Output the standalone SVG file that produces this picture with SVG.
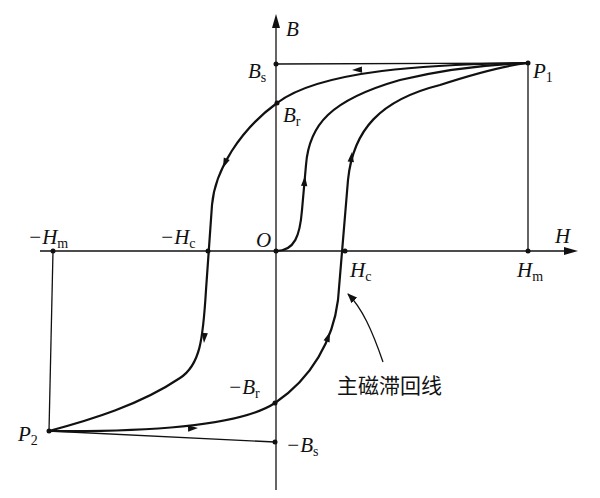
<svg xmlns="http://www.w3.org/2000/svg" width="600" height="498" viewBox="0 0 600 498">
<style>
.ax{stroke:#111;stroke-width:1.3;fill:none}
.cv{stroke:#111;stroke-width:2.2;fill:none}
.t{font-family:"Liberation Serif",serif;font-style:italic;font-size:21px;fill:#111}
.s{font-style:normal;font-size:14px}
.cn{font-family:"Noto Sans CJK SC",sans-serif;font-size:21px;fill:#111}
</style>
<defs>
<polygon id="ah" points="0,0 -10,-3.2 -10,3.2" fill="#111"/>
<marker id="am" markerWidth="10" markerHeight="8" refX="9" refY="4" orient="auto" markerUnits="userSpaceOnUse"><polygon points="0,0 10,4 0,8" fill="#111"/></marker>
</defs>
<g id="connectors">
<line class="ax" x1="276" y1="490" x2="276" y2="24"/>
<polygon points="276,14 272,28 280,28" fill="#111"/>
<line class="ax" x1="40" y1="251" x2="568" y2="251"/>
<polygon points="578,251 564,247 564,255" fill="#111"/>
<line class="ax" x1="276" y1="64" x2="528" y2="63"/>
<line class="ax" x1="528" y1="63" x2="528" y2="251"/>
<line class="ax" x1="53" y1="251" x2="49" y2="431"/>
<line class="ax" x1="49" y1="431" x2="275" y2="442"/>
<path class="cv" d="M276,251 C295,251 300,235 302,210 L306,165 C309,125 330,100 400,80 C450,68 500,64 528,63"/>
<path class="cv" d="M528,63 C430,64 320,70 277,103 C240,130 215,170 212,205 L206,290 C203,340 200,365 180,378 C140,405 90,420 49,431"/>
<path class="cv" d="M49,431 C150,432 240,426 275,403 C312,378 333,340 338,300 L348,180 C353,130 380,100 440,85 C480,72 510,65 528,63"/>
<path class="ax" d="M383,362 C372,330 362,308 348,294" marker-end="url(#am)"/>
<use href="#ah" transform="translate(305,176) rotate(-85)"/>
<use href="#ah" transform="translate(352,70) rotate(178)"/>
<use href="#ah" transform="translate(223,168) rotate(112)"/>
<use href="#ah" transform="translate(204,343) rotate(94)"/>
<use href="#ah" transform="translate(198,428) rotate(-3)"/>
<use href="#ah" transform="translate(330,332) rotate(-70)"/>
<use href="#ah" transform="translate(352,152) rotate(-83)"/>
</g>
<g id="points" fill="#111">
<circle cx="276" cy="64" r="2.5"/><circle cx="528" cy="63" r="2.5"/><circle cx="277" cy="103" r="2.5"/>
<circle cx="528" cy="251" r="2.5"/><circle cx="53" cy="251" r="2.5"/><circle cx="49" cy="431" r="2.5"/>
<circle cx="275" cy="442" r="2.5"/><circle cx="275" cy="403" r="2.5"/><circle cx="208" cy="251" r="2.5"/>
<circle cx="345" cy="251" r="2.5"/><circle cx="276" cy="251" r="2.5"/>
</g>
<g id="labels">
<text class="t" x="286" y="36">B</text>
<text class="t" x="555" y="243">H</text>
<text class="t" x="256" y="247">O</text>
<text class="t" x="248" y="78">B<tspan class="s" dy="4">s</tspan></text>
<text class="t" x="533" y="78">P<tspan class="s" dy="4">1</tspan></text>
<text class="t" x="283" y="122">B<tspan class="s" dy="4">r</tspan></text>
<text class="t" x="160" y="244">−H<tspan class="s" dy="4">c</tspan></text>
<text class="t" x="28" y="244">−H<tspan class="s" dy="4">m</tspan></text>
<text class="t" x="350" y="277">H<tspan class="s" dy="4">c</tspan></text>
<text class="t" x="517" y="277">H<tspan class="s" dy="4">m</tspan></text>
<text class="t" x="228" y="394">−B<tspan class="s" dy="4">r</tspan></text>
<text class="t" x="286" y="452">−B<tspan class="s" dy="4">s</tspan></text>
<text class="t" x="18" y="441">P<tspan class="s" dy="4">2</tspan></text>
<text class="cn" x="337" y="393">主磁滞回线</text>
</g>
</svg>
